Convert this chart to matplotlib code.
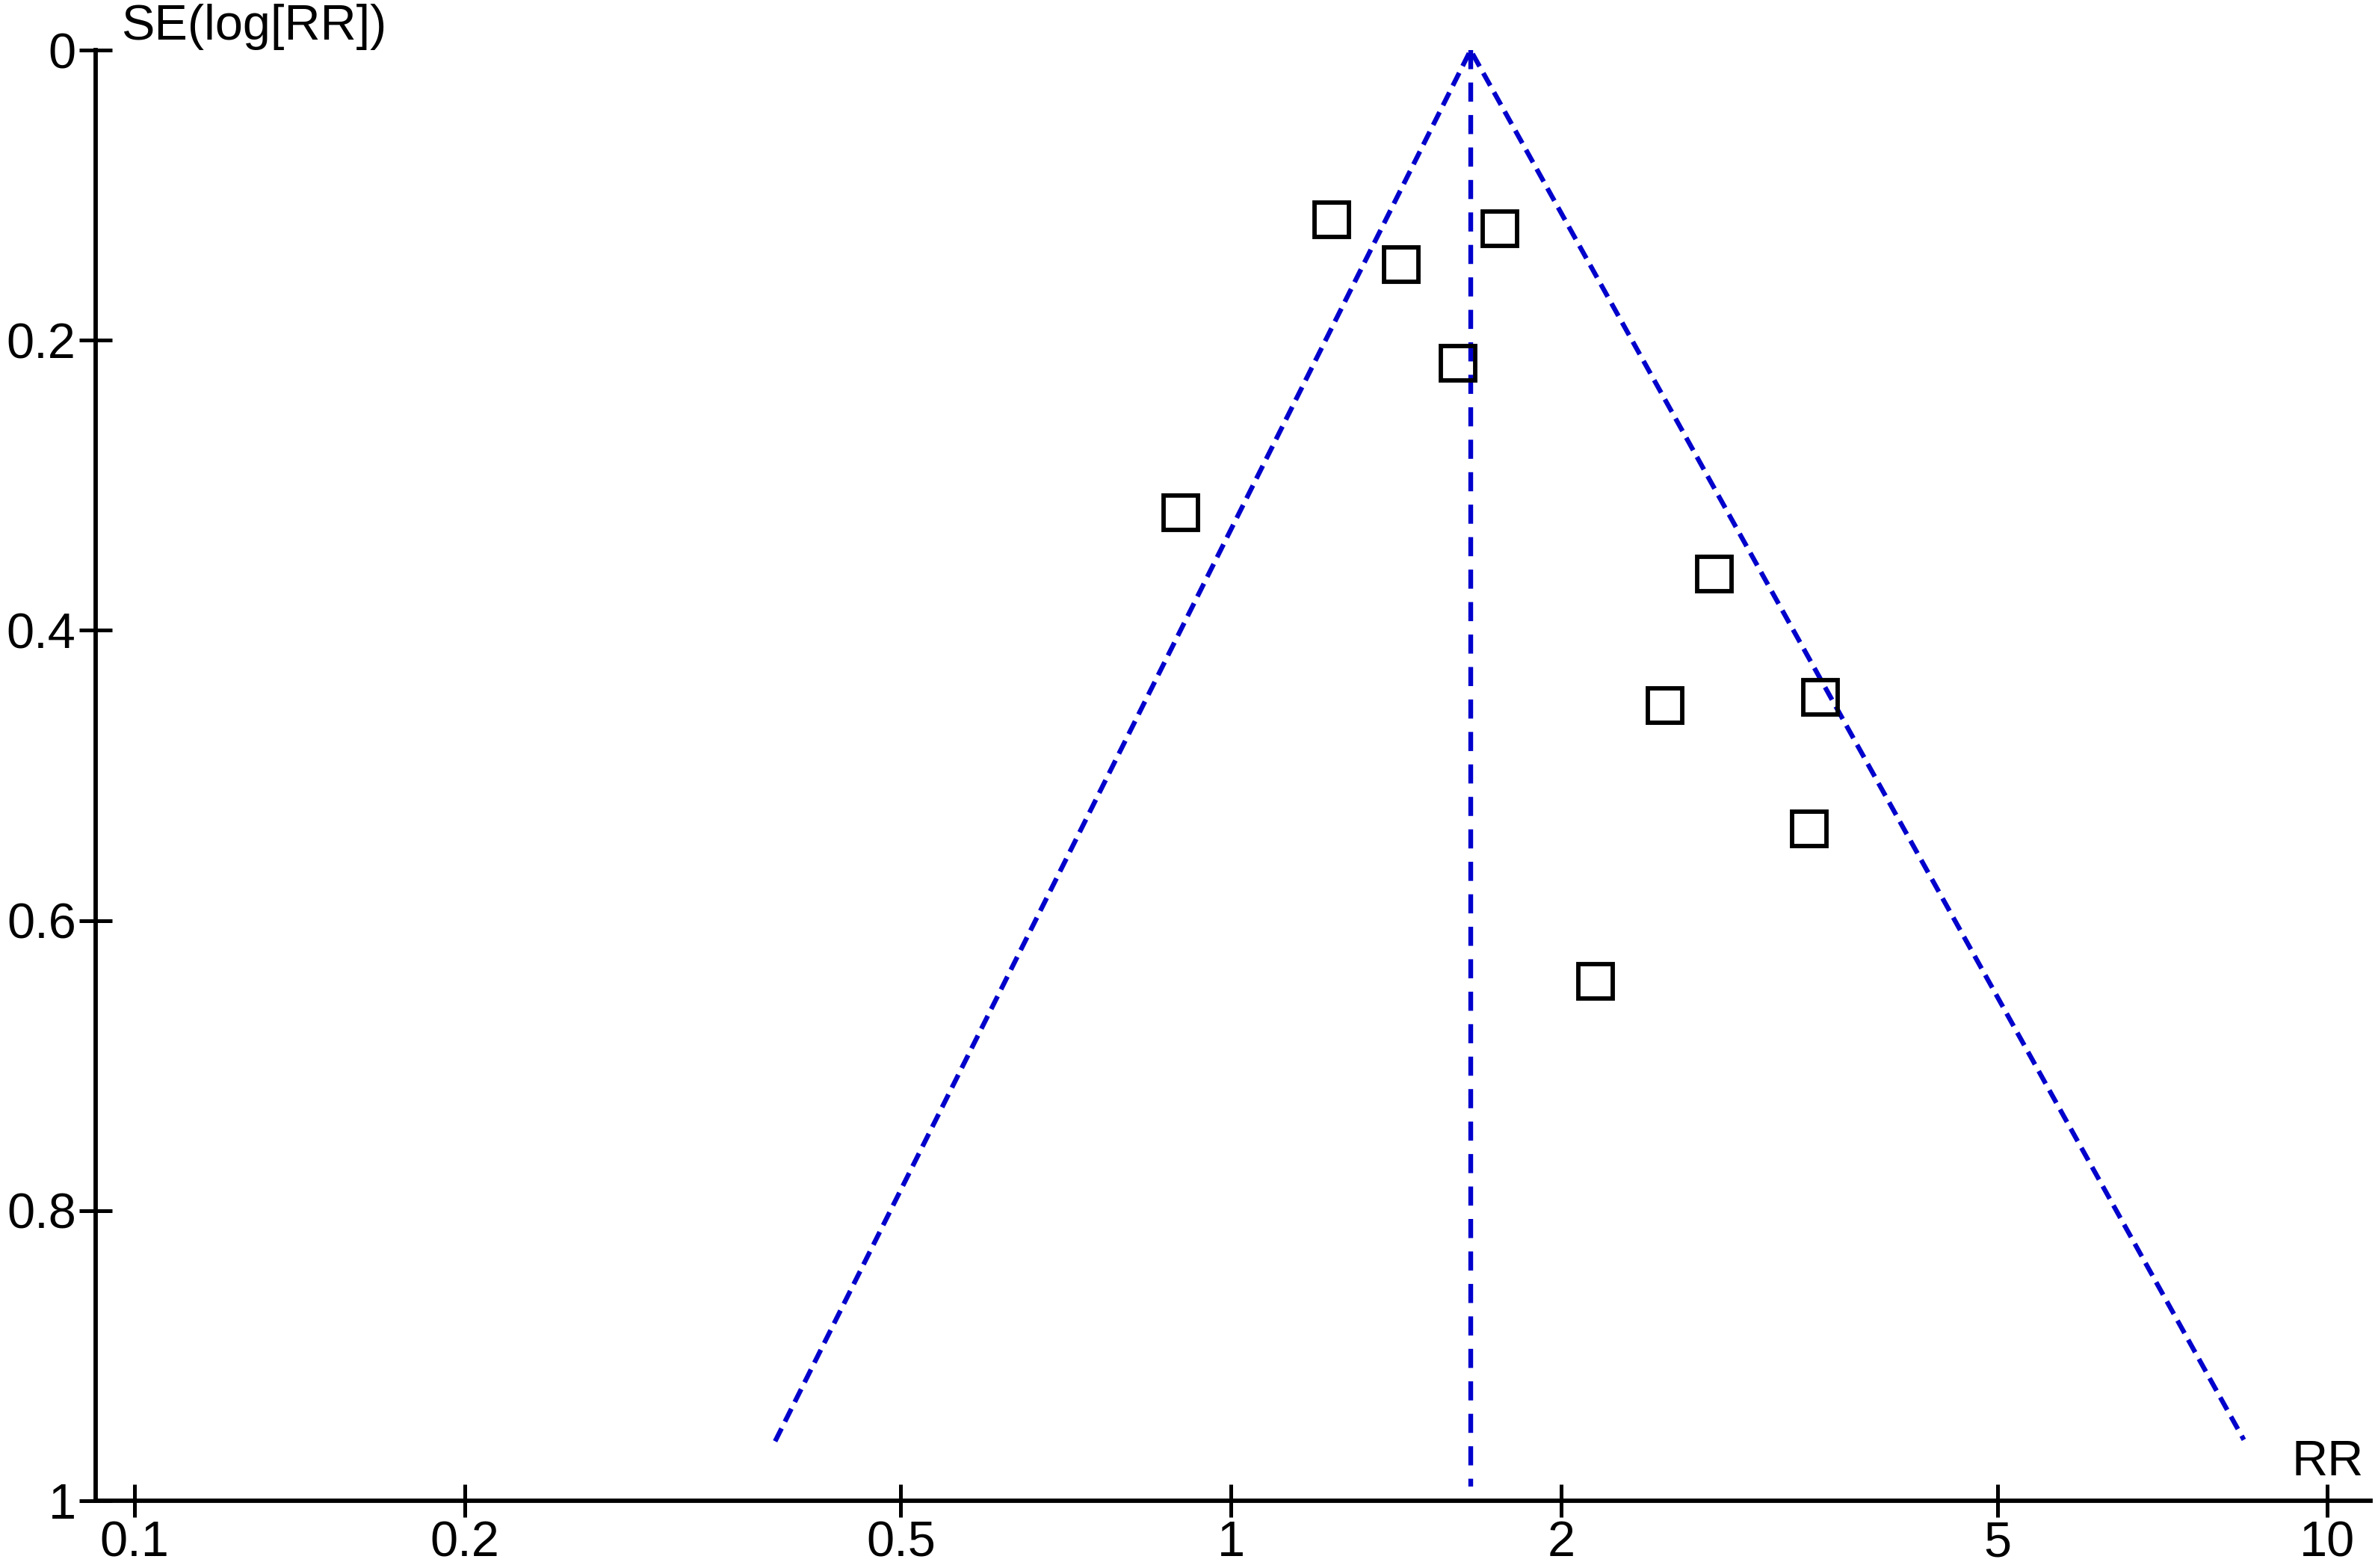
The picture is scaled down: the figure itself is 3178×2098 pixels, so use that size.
#coding: utf-8

import matplotlib
matplotlib.use('Agg')
import matplotlib.pyplot as plt
from matplotlib.ticker import FixedLocator, FixedFormatter, NullLocator

# study estimates
rr = [0.90, 1.235, 1.43, 1.76, 1.61, 2.76, 2.49, 3.45, 3.37, 2.15]
se = [0.319, 0.117, 0.148, 0.123, 0.216, 0.361, 0.452, 0.446, 0.537, 0.642]

# pooled estimate and funnel limits
pooled_rr = 1.654
pooled_se_max = 0.990
funnel_rr = [0.384, 1.654, 8.39]
funnel_se = [0.959, 0.0, 0.958]

x_ticks = [0.1, 0.2, 0.5, 1, 2, 5, 10]
x_labels = ['0.1', '0.2', '0.5', '1', '2', '5', '10']
y_ticks = [0, 0.2, 0.4, 0.6, 0.8, 1]
y_labels = ['0', '0.2', '0.4', '0.6', '0.8', '1']


def generate_plot(output):
	plt.rcParams['font.family'] = ['Liberation Sans', 'DejaVu Sans']
	blue = '#0000cc'

	fig = plt.figure(figsize=(31.78, 20.98), dpi=100)
	ax = fig.add_axes([0.0403, 0.0429, 0.9577, 0.9251])

	ax.plot(funnel_rr, funnel_se, color=blue, lw=4.6, dashes=(3.0, 1.6))
	ax.plot([pooled_rr, pooled_rr], [0, pooled_se_max], color=blue, lw=4.6, dashes=(4.0, 2.8))
	ax.plot(rr, se, ls='none', marker='s', ms=33.5, mfc='none', mec='black', mew=4.2)

	ax.set_xscale('log')
	ax.set_xlim(0.0922, 10.94)
	ax.set_ylim(1, 0)

	ax.xaxis.set_major_locator(FixedLocator(x_ticks))
	ax.xaxis.set_major_formatter(FixedFormatter(x_labels))
	ax.xaxis.set_minor_locator(NullLocator())
	ax.yaxis.set_major_locator(FixedLocator(y_ticks))
	ax.yaxis.set_major_formatter(FixedFormatter(y_labels))

	for side in ['top', 'right']:
		ax.spines[side].set_visible(False)
	for side in ['left', 'bottom']:
		ax.spines[side].set_linewidth(4.2)
	ax.tick_params(direction='inout', length=32, width=3.6, labelsize=48, pad=3)

	ax.annotate('SE(log[RR])', xy=(0, 1), xycoords='axes fraction', xytext=(34, 0),
		textcoords='offset pixels', ha='left', va='bottom', fontsize=48)
	ax.annotate('RR', xy=(1, 0), xycoords='axes fraction', xytext=(-9, 20),
		textcoords='offset pixels', ha='right', va='bottom', fontsize=48)

	fig.savefig(output, dpi=100)


if __name__ == "__main__":
	generate_plot('out.png')
	print('Done')
